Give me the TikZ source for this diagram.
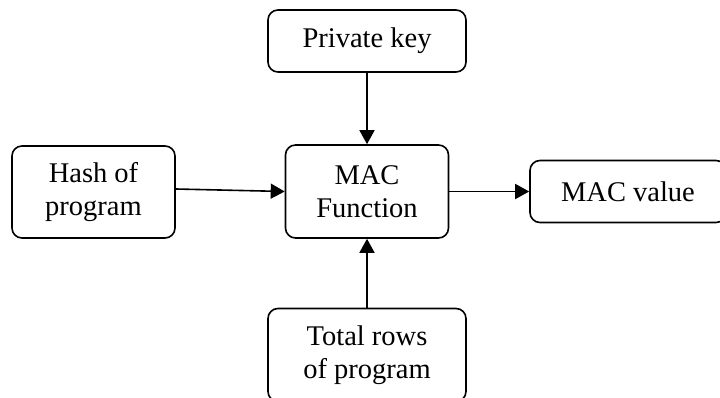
\documentclass[tikz,border=0pt]{standalone}
\usepackage{fontspec}
\setmainfont{Liberation Serif}
\usetikzlibrary{arrows.meta}
\begin{document}
\begin{tikzpicture}[x=1pt,y=-1pt,
  box/.style={draw, line width=1.6pt, rounded corners=10pt, inner sep=0pt, align=center,
    font=\fontsize{28.5}{33}\selectfont},
  conn/.style={line width=1.6pt, -{Triangle[length=14pt,width=15pt]}}]
\useasboundingbox (0,0) rectangle (720,398);
\node[box, minimum width=198pt, minimum height=62pt] (pk) at (367,41) {Private key};
\node[box, minimum width=163pt, minimum height=92pt] (hash) at (93.5,192) {Hash of\\program};
\node[box, minimum width=163pt, minimum height=93pt] (mac) at (367,191.5) {MAC\\Function};
\node[box, minimum width=196pt, minimum height=62pt] (mv) at (628,191.5) {MAC value};
\node[box, minimum width=198pt, minimum height=93pt] (tr) at (367,355) {Total rows\\of program};
\draw[conn] (pk.south) -- (mac.north);
\draw[conn] ([yshift=3pt]hash.east) -- (mac.west);
\draw[conn] (mac.east) -- (mv.west);
\draw[conn] (tr.north) -- (mac.south);
\end{tikzpicture}
\end{document}
